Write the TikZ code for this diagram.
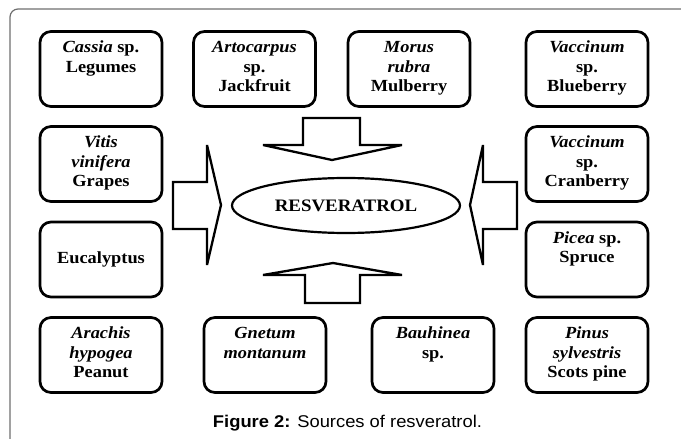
\documentclass[tikz,border=0pt]{standalone}
\usepackage{fontspec}
\setmainfont{Liberation Serif}[FakeStretch=1.08]
\newfontfamily\capfont{Liberation Sans}[FakeStretch=1.08]
\usetikzlibrary{shapes.geometric}
\definecolor{framegray}{RGB}{110,110,110}
\tikzset{
  srcbox/.style={draw, line width=2.7pt, rounded corners=11pt, minimum width=122pt,
    minimum height=75pt, inner sep=0pt, align=center,
    font=\bfseries\fontsize{17}{19.5}\selectfont},
  blockarrow/.style={draw, line width=2.3pt, line join=miter, miter limit=3, fill=white},
  centre/.style={draw, ellipse, line width=2.2pt, minimum width=228pt, minimum height=55pt,
    inner sep=0pt, font=\bfseries\fontsize{17.5}{20}\selectfont},
  captext/.style={font=\capfont\fontsize{17}{20}\selectfont, inner sep=0pt},
}
\newcommand{\topbox}[1]{\parbox[c][60pt][t]{118pt}{\centering\strut #1}}
\begin{document}
\begin{tikzpicture}[x=1pt, y=-1pt]
\useasboundingbox (0,0) rectangle (681,439);
\clip (0,0) rectangle (681,439);
\draw[framegray, line width=1.2pt, rounded corners=8pt] (10,9) rectangle (700,460);

% source boxes
\node[srcbox] (cassia) at (101,69) {\topbox{\textit{Cassia} sp.\\Legumes}};
\node[srcbox] (arto) at (254.5,69) {\topbox{\textit{Artocarpus}\\sp.\\Jackfruit}};
\node[srcbox] (morus) at (409,69) {\topbox{\textit{Morus}\\\textit{rubra}\\Mulberry}};
\node[srcbox] (blue) at (587,69) {\topbox{\textit{Vaccinum}\\sp.\\Blueberry}};
\node[srcbox] (vitis) at (101,164) {\topbox{\textit{Vitis}\\\textit{vinifera}\\Grapes}};
\node[srcbox] (cran) at (587,164) {\topbox{\textit{Vaccinum}\\sp.\\Cranberry}};
\node[srcbox] (euc) at (101,259.5) {Eucalyptus};
\node[srcbox] (picea) at (587,259.5) {\topbox{\textit{Picea} sp.\\Spruce}};
\node[srcbox] (arachis) at (101,355) {\topbox{\textit{Arachis}\\\textit{hypogea}\\Peanut}};
\node[srcbox] (gnetum) at (265,355) {\topbox{\textit{Gnetum}\\\textit{montanum}}};
\node[srcbox] (bauh) at (433,355) {\topbox{\textit{Bauhinea}\\sp.}};
\node[srcbox] (pinus) at (587,355) {\topbox{\textit{Pinus}\\\textit{sylvestris}\\Scots pine}};

% centre
\node[centre] (res) at (346,205.5) {RESVERATROL};

% block arrows
\draw[blockarrow] (303,118) -- (360,118) -- (360,145) -- (402,145) -- (332,160)
  -- (263,145) -- (303,145) -- cycle;
\draw[blockarrow] (305,303) -- (360,303) -- (360,275) -- (402,275) -- (333,263)
  -- (263,275) -- (305,275) -- cycle;
\draw[blockarrow] (173,182) -- (207,182) -- (207,145) -- (221,205) -- (207,265)
  -- (207,229) -- (173,229) -- cycle;
\draw[blockarrow] (517,182) -- (483,182) -- (483,145) -- (470,205) -- (483,265)
  -- (483,229) -- (517,229) -- cycle;

% caption
\node[captext, anchor=base] (cap) at (347.5,427) {\textbf{Figure 2:} Sources of resveratrol.};
\end{tikzpicture}
\end{document}
